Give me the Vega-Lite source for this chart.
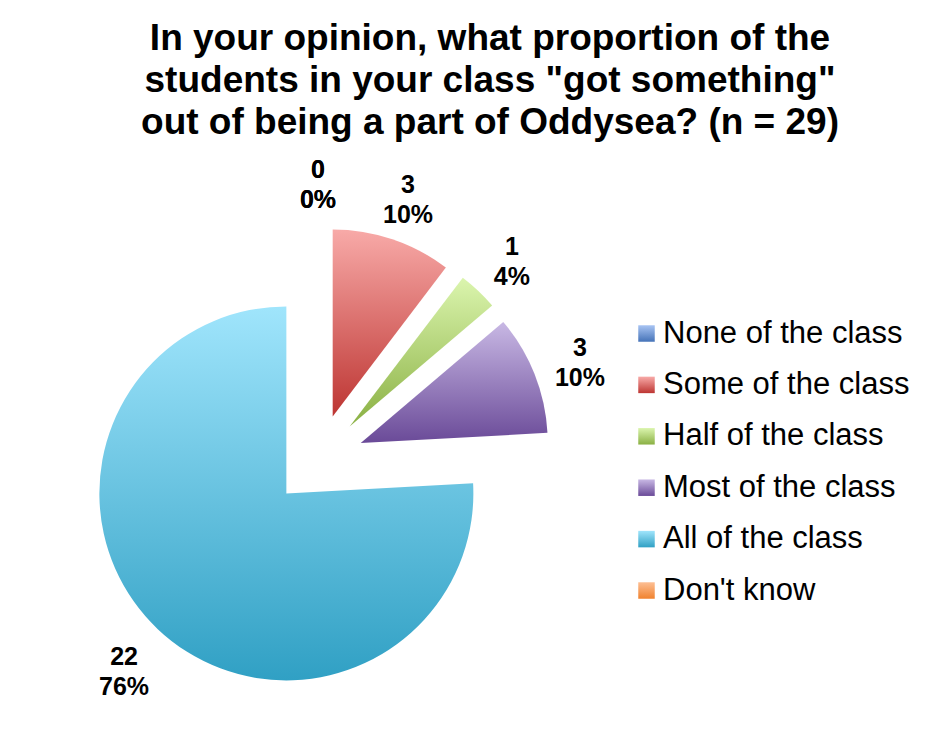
{
  "$schema": "https://vega.github.io/schema/vega-lite/v6.json",
  "autosize": "none",
  "width": 600,
  "height": 590,
  "padding": {"left": 18, "top": 165, "right": 313, "bottom": 0},
  "background": "white",
  "title": {
    "text": ["In your opinion, what proportion of the", "students in your class \"got something\"", "out of being a part of Oddysea? (n = 29)"],
    "font": "Liberation Sans",
    "fontSize": 37,
    "fontWeight": "bold",
    "lineHeight": 42,
    "color": "#000000",
    "anchor": "middle",
    "dx": 172,
    "offset": 16
  },
  "data": {
    "values": [
      {"category": "None of the class", "count": 0, "pct": 0},
      {"category": "Some of the class", "count": 3, "pct": 10},
      {"category": "Half of the class", "count": 1, "pct": 4},
      {"category": "Most of the class", "count": 3, "pct": 10},
      {"category": "All of the class", "count": 22, "pct": 76},
      {"category": "Don't know", "count": 0, "pct": 0}
    ]
  },
  "transform": [
    {"window": [{"op": "row_number", "as": "idx"}]},
    {"calculate": "datum.count + '\\n' + datum.pct + '%'", "as": "label"}
  ],
  "encoding": {
    "theta": {"field": "count", "type": "quantitative", "stack": true},
    "order": {"field": "idx", "type": "quantitative"}
  },
  "layer": [
    {
      "mark": {
        "type": "arc",
        "outerRadius": 187,
        "xOffset": {"expr": "46*sin(scale('theta', (datum.count_start + datum.count_end)/2))"},
        "yOffset": {"expr": "-46*cos(scale('theta', (datum.count_start + datum.count_end)/2))"}
      },
      "encoding": {
        "color": {
          "field": "category",
          "type": "nominal",
          "sort": null,
          "scale": {
            "domain": ["None of the class", "Some of the class", "Half of the class", "Most of the class", "All of the class", "Don't know"],
            "range": [
              {"expr": "{gradient: 'linear', x1: 0, y1: 0, x2: 0, y2: 1, stops: [{offset: 0, color: '#a8c4f3'}, {offset: 1, color: '#4573b8'}]}"},
              {"expr": "{gradient: 'linear', x1: 0, y1: 0, x2: 0, y2: 1, stops: [{offset: 0, color: '#f8aaa8'}, {offset: 1, color: '#bd3532'}]}"},
              {"expr": "{gradient: 'linear', x1: 0, y1: 0, x2: 0, y2: 1, stops: [{offset: 0, color: '#dbf5ae'}, {offset: 1, color: '#8ab043'}]}"},
              {"expr": "{gradient: 'linear', x1: 0, y1: 0, x2: 0, y2: 1, stops: [{offset: 0, color: '#c8b8e4'}, {offset: 1, color: '#6a4a98'}]}"},
              {"expr": "{gradient: 'linear', x1: 0, y1: 0, x2: 0, y2: 1, stops: [{offset: 0, color: '#a0e5fc'}, {offset: 1, color: '#30a0c4'}]}"},
              {"expr": "{gradient: 'linear', x1: 0, y1: 0, x2: 0, y2: 1, stops: [{offset: 0, color: '#fdbf94'}, {offset: 1, color: '#f0822e'}]}"}
            ]
          },
          "legend": {
            "title": null,
            "orient": "none",
            "legendX": 613,
            "legendY": 153,
            "symbolType": "square",
            "symbolSize": 272,
            "symbolStrokeWidth": 0,
            "labelFont": "Liberation Sans",
            "labelFontSize": 31,
            "labelColor": "#000000",
            "labelOffset": 1,
            "labelLimit": 400,
            "rowPadding": 19.4
          }
        }
      }
    },
    {
      "mark": {
        "type": "text",
        "radius": 282,
        "dy": -8,
        "font": "Liberation Sans",
        "fontSize": 25,
        "fontWeight": "bold",
        "lineBreak": "\n",
        "lineHeight": 30,
        "align": "center",
        "baseline": "middle",
        "color": "#000000"
      },
      "encoding": {
        "text": {"field": "label", "type": "nominal"}
      }
    }
  ]
}
